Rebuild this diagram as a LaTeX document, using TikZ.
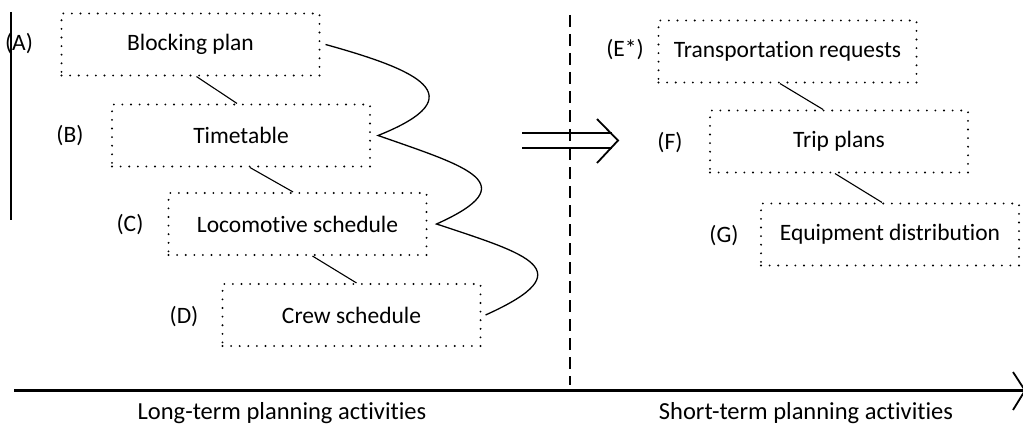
\documentclass[tikz,border=0pt]{standalone}
\usepackage{fontspec}
\setmainfont[Ligatures=NoCommon]{Carlito}
\usetikzlibrary{calc}
\begin{document}
\begin{tikzpicture}[x=1pt,y=1pt,
  stagebox/.style={draw, line width=2.1pt, line cap=round, dash pattern=on 0pt off 8.6pt,
    minimum width=258pt, minimum height=62pt, inner sep=0pt, font=\fontsize{23.5}{27}\selectfont},
  tag/.style={font=\fontsize{23.5}{27}\selectfont, inner sep=0pt},
  link/.style={line width=1.1pt},
  snake/.style={line width=1.3pt},
  axislabel/.style={font=\fontsize{24.5}{29}\selectfont, inner sep=0pt, anchor=base}]
\useasboundingbox (0,0) rectangle (1023,-428);

% boxes
\node[stagebox] (A) at (190.5,-44.5) {Blocking plan};
\node[stagebox] (B) at (241,-135.5) {Timetable};
\node[stagebox] (C) at (297.5,-224) {Locomotive schedule};
\node[stagebox] (D) at (351.5,-315) {Crew schedule};
\node[stagebox] (E) at (787.5,-51.5) {Transportation requests};
\node[stagebox] (F) at (839,-141.5) {Trip plans};
\node[stagebox] (G) at (890,-234.5) {Equipment distribution};

% tags
\node[tag] (tA) at (19,-44) {(A)};
\node[tag] (tB) at (70,-136) {(B)};
\node[tag] (tC) at (130,-225) {(C)};
\node[tag] (tD) at (184,-317) {(D)};
\node[tag] (tE) at (625,-50) {(E*)};
\node[tag] (tF) at (670,-143) {(F)};
\node[tag] (tG) at (724,-236) {(G)};

% links between boxes
\draw[link] ([xshift=6pt]A.south) -- ([xshift=-4pt]B.north);
\draw[link] ([xshift=9pt]B.south) -- ([xshift=-4.5pt]C.north);
\draw[link] ([xshift=15pt]C.south) -- ([xshift=5pt]D.north);
\draw[link] ([xshift=-7.5pt]E.south) -- ([xshift=-16pt]F.north);
\draw[link] ([xshift=-4pt]F.south) -- ([xshift=-8pt]G.north);

% snake curve
\coordinate (sA) at ([xshift=5pt]A.east);
\coordinate (sB) at ([xshift=7pt]B.east);
\coordinate (sC) at ([xshift=9pt]C.east);
\coordinate (sD) at ([xshift=4pt]D.east);
\draw[snake] (sA) .. controls +(90,-25) and +(100,40) .. (sB)
             .. controls +(90,-31.5) and +(90,40.5) .. (sC)
             .. controls +(90,-30) and +(100,45) .. (sD);

% left vertical line
\coordinate (v1) at (11,-12);
\coordinate (v2) at (11,-220);
\draw[line width=1.2pt] (v1) -- (v2);

% dashed divider
\coordinate (d1) at (570,-15);
\coordinate (d2) at (570,-385);
\draw[line width=2.4pt, dash pattern=on 12pt off 7pt] (d1) -- (d2);

% double arrow
\coordinate (q1) at (522,-133);
\coordinate (q2) at (612,-133);
\coordinate (q3) at (522,-148);
\coordinate (q4) at (612,-148);
\coordinate (qa) at (597,-119);
\coordinate (qt) at (618,-140.5);
\coordinate (qb) at (597,-163);
\draw[line width=1.8pt] (q1) -- (q2);
\draw[line width=1.8pt] (q3) -- (q4);
\draw[line width=1.8pt, line join=miter] (qa) -- (qt) -- (qb);

% time axis
\coordinate (x0) at (14,-390.5);
\coordinate (x1) at (1024,-390.5);
\coordinate (xa) at (1013,-372);
\coordinate (xt) at (1025,-390.5);
\coordinate (xb) at (1013,-410);
\draw[line width=2.4pt] (x0) -- (x1);
\draw[line width=1.8pt] (xa) -- (xt) -- (xb);

% axis labels
\node[axislabel] (L1) at (282,-419) {Long-term planning activities};
\node[axislabel] (L2) at (806,-419) {Short-term planning activities};
\end{tikzpicture}
\end{document}
